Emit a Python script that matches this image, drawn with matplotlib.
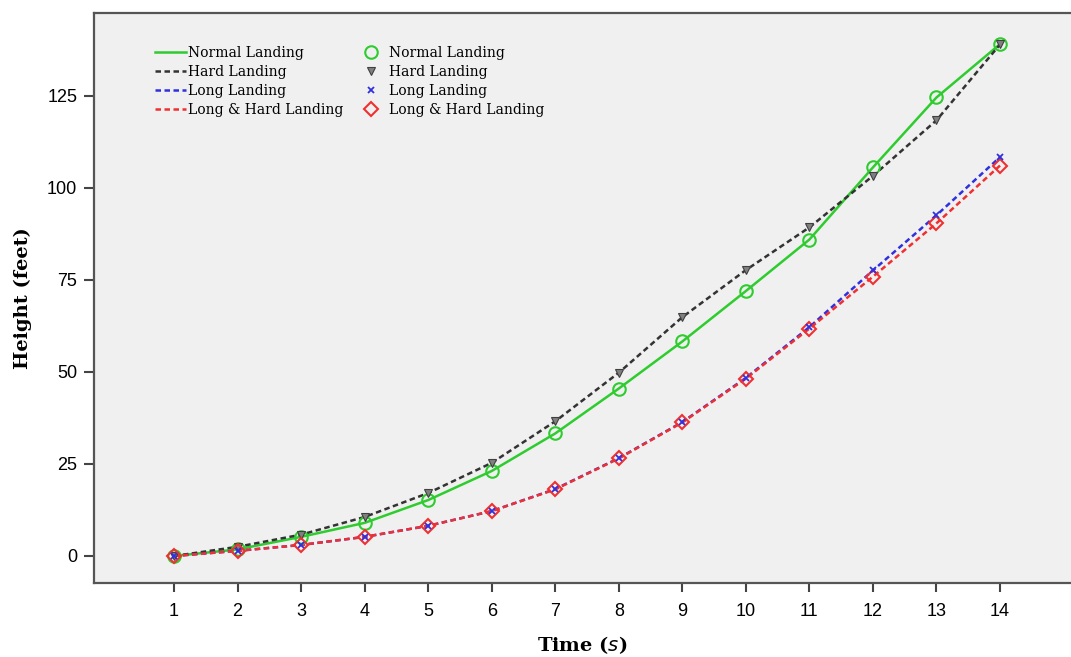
import matplotlib
matplotlib.use("Agg")
import matplotlib.pyplot as plt
from matplotlib.lines import Line2D

time_s = [1, 2, 3, 4, 5, 6, 7, 8, 9, 10, 11, 12, 13, 14]
normal = [0, 1.8, 5.2, 9.0, 15.2, 23.1, 33.3, 45.5, 58.3, 72.0, 86.0, 105.6, 124.6, 139.1]
hard = [0, 2.5, 5.8, 10.6, 17.1, 25.3, 36.6, 49.8, 64.9, 77.7, 89.3, 103.3, 118.4, 139.0]
long_ = [0, 1.4, 3.0, 5.2, 8.2, 12.2, 18.2, 26.6, 36.4, 48.4, 62.2, 77.6, 92.6, 108.4]
long_hard = [0, 1.4, 3.0, 5.2, 8.2, 12.2, 18.1, 26.5, 36.3, 48.2, 61.8, 75.9, 90.4, 106.1]
y_ticks = [0, 25, 50, 75, 100, 125]

green = '#2ecc2e'
dark = '#333333'
blue = '#3030e0'
red = '#f03030'
dash = (0, (2.2, 1.4))

fig = plt.figure(figsize=(10.71, 6.57), dpi=100)
ax = fig.add_axes([94 / 1071, 1 - 583 / 657, 1 - 94 / 1071, (583 - 13) / 657])
ax.set_facecolor('#f0f0f0')

# lines first, markers on top (SPSS style)
ax.plot(time_s, normal, color=green, lw=1.8, zorder=2)
ax.plot(time_s, hard, color=dark, lw=1.8, ls=dash, zorder=2)
ax.plot(time_s, long_, color=blue, lw=1.8, ls=dash, zorder=2)
ax.plot(time_s, long_hard, color=red, lw=1.8, ls=dash, zorder=2)

ax.plot(time_s, normal, ls='none', marker='o', ms=9, mfc='none', mec=green, mew=1.5, zorder=3)
ax.plot(time_s, hard, ls='none', marker='v', ms=5.5, mfc='#808080', mec='#404040', mew=0.8, zorder=3)
ax.plot(time_s, long_hard, ls='none', marker='D', ms=7, mfc='none', mec=red, mew=1.5, zorder=3)
ax.plot(time_s, long_, ls='none', marker='x', ms=5, mec=blue, mew=1.3, zorder=4)

ax.set_xlim(1 - 80 / 63.54, 1 + 897 / 63.54)
ax.set_ylim(-27 / 3.68, 543 / 3.68)
ax.set_xticks(time_s)
ax.set_yticks(y_ticks)

for s in ['left', 'bottom', 'top']:
    ax.spines[s].set_color('#555555')
    ax.spines[s].set_linewidth(1.6)
ax.spines['right'].set_visible(False)

ax.tick_params(axis='y', length=7, width=1.5, color='#444444', pad=5,
               labelsize=13, labelfontfamily='Liberation Sans')
ax.tick_params(axis='x', length=6.5, width=1.5, color='#444444', pad=8,
               labelsize=13, labelfontfamily='Liberation Sans')

ax.set_ylabel('Height (feet)', family='DejaVu Serif', fontweight='bold', fontsize=14, labelpad=11)
ax.set_xlabel(r'Time ($\it{s}$)', family='DejaVu Serif', fontweight='bold', fontsize=14, labelpad=10)

line_handles = [
    Line2D([], [], color=green, lw=1.8),
    Line2D([], [], color=dark, lw=1.8, ls=dash),
    Line2D([], [], color=blue, lw=1.8, ls=dash),
    Line2D([], [], color=red, lw=1.8, ls=dash),
]
marker_handles = [
    Line2D([], [], ls='none', marker='o', ms=9, mfc='none', mec=green, mew=1.5),
    Line2D([], [], ls='none', marker='v', ms=5.5, mfc='#808080', mec='#404040', mew=0.8),
    Line2D([], [], ls='none', marker='x', ms=5, mec=blue, mew=1.3),
    Line2D([], [], ls='none', marker='D', ms=7, mfc='none', mec=red, mew=1.5),
]
names = ['Normal Landing', 'Hard Landing', 'Long Landing', 'Long & Hard Landing']

leg_kw = dict(frameon=False, prop={'family': 'DejaVu Serif', 'size': 10},
              handlelength=2.2, handletextpad=0.2, labelspacing=0.36,
              borderpad=0, borderaxespad=0, loc='upper left')
leg1 = ax.legend(line_handles, names, bbox_to_anchor=(155 / 1071, 1 - 46 / 657),
                 bbox_transform=fig.transFigure, **leg_kw)
ax.add_artist(leg1)
ax.legend(marker_handles, names, bbox_to_anchor=(356 / 1071, 1 - 46 / 657),
          bbox_transform=fig.transFigure, **leg_kw)

fig.savefig('out.png', dpi=100)
